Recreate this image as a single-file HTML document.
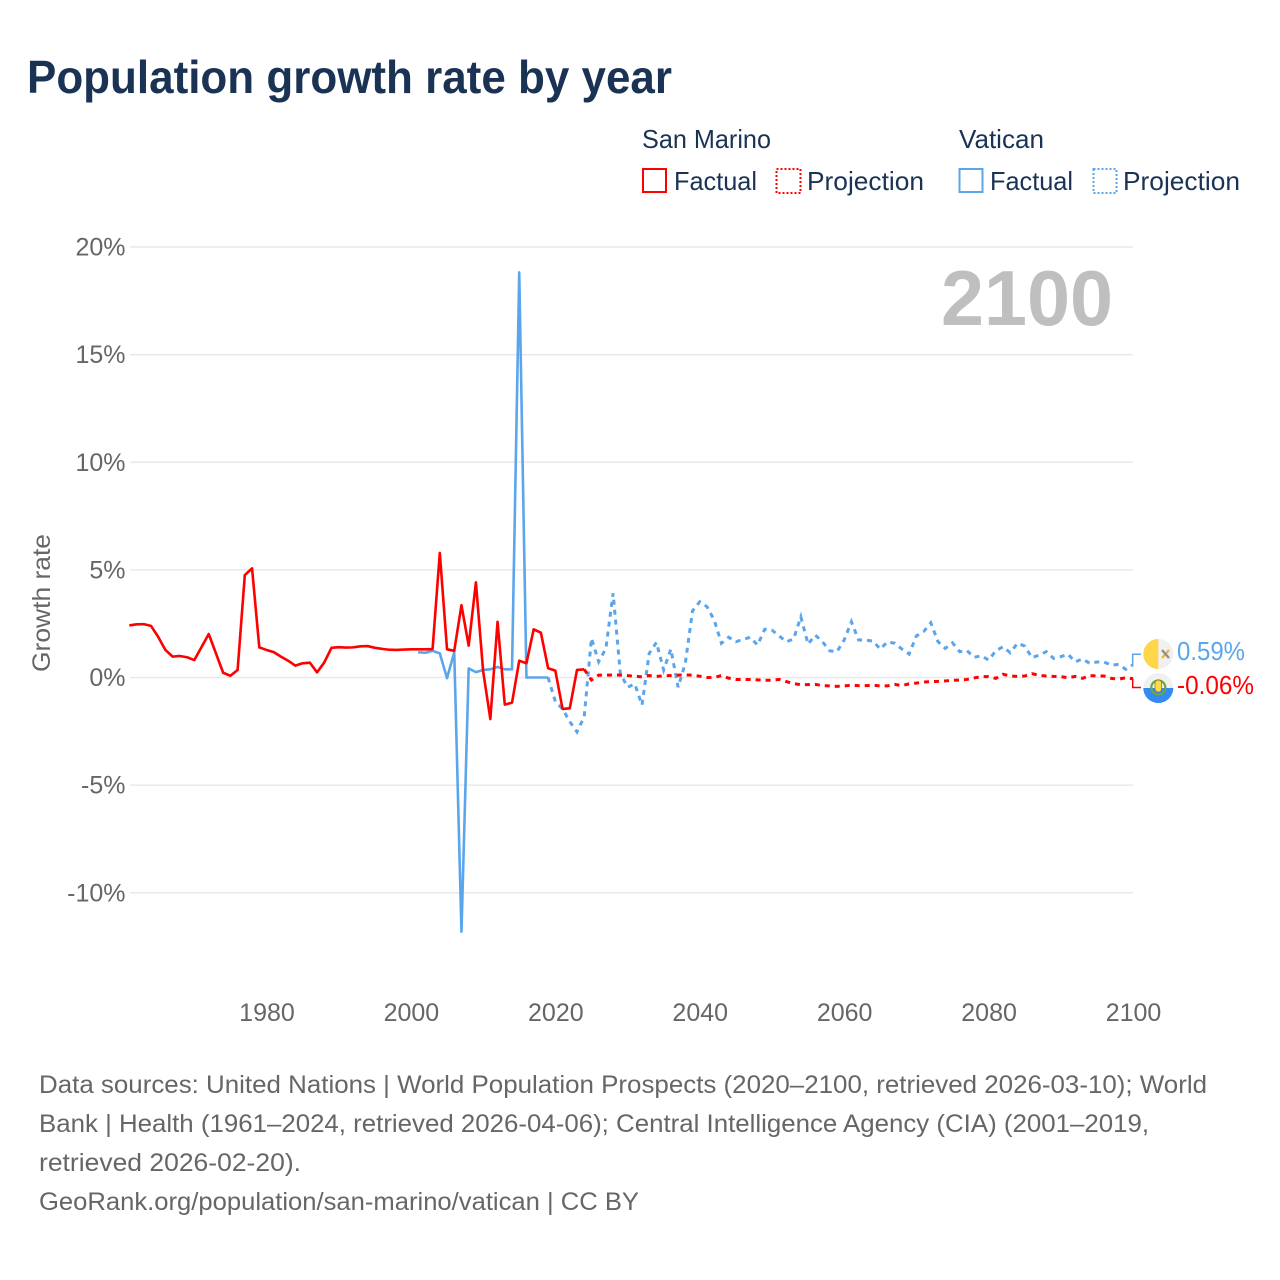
<!DOCTYPE html>
<html lang="en">
<head>
<meta charset="utf-8">
<title>Population growth rate by year</title>
<style>
html,body{margin:0;padding:0;background:#fff;}
svg{display:block;}
text{font-family:"Liberation Sans",sans-serif;}
</style>
</head>
<body>
<svg id="chart" width="1280" height="1280" viewBox="0 0 1280 1280" xmlns="http://www.w3.org/2000/svg">
  <rect x="0" y="0" width="1280" height="1280" fill="#fff"/>
  <text x="27" y="93" font-size="46" font-weight="700" fill="#1a3354" textLength="645" lengthAdjust="spacingAndGlyphs">Population growth rate by year</text>

  <g font-size="26" fill="#1a3354">
    <text x="642" y="148" textLength="129" lengthAdjust="spacingAndGlyphs">San Marino</text>
    <text x="959" y="148" textLength="85" lengthAdjust="spacingAndGlyphs">Vatican</text>
    <g>
      <rect x="643" y="169" width="23" height="23" fill="none" stroke="#ff0000" stroke-width="2"/>
      <text x="674" y="190" textLength="83" lengthAdjust="spacingAndGlyphs">Factual</text>
    </g>
    <g>
      <rect x="776.5" y="169" width="24" height="24" fill="none" stroke="#ff0000" stroke-width="2" stroke-dasharray="2 2"/>
      <text x="807" y="190" textLength="117" lengthAdjust="spacingAndGlyphs">Projection</text>
    </g>
    <g>
      <rect x="959.5" y="169" width="23" height="23" fill="none" stroke="#5ba5ec" stroke-width="2"/>
      <text x="990" y="190" textLength="83" lengthAdjust="spacingAndGlyphs">Factual</text>
    </g>
    <g>
      <rect x="1093.5" y="169" width="23" height="24" fill="none" stroke="#5ba5ec" stroke-width="2" stroke-dasharray="2 2"/>
      <text x="1123" y="190" textLength="117" lengthAdjust="spacingAndGlyphs">Projection</text>
    </g>
  </g>

  <g id="grid"></g>
  <g id="yticks" font-size="25" fill="#666"></g>
  <g id="xticks" font-size="25" fill="#666"></g>

  <text transform="translate(50,603) rotate(-90)" text-anchor="middle" font-size="25" fill="#666" textLength="138" lengthAdjust="spacingAndGlyphs">Growth rate</text>
  <text x="941" y="325" font-size="78" font-weight="700" fill="#bfbfbf" textLength="172" lengthAdjust="spacingAndGlyphs">2100</text>

  <g id="series"></g>

  <path d="M1132.7 665 V654.3 H1141" fill="none" stroke="#5ba5ec" stroke-width="1.5"/>
  <path d="M1132.7 678.3 V687.5 H1141" fill="none" stroke="#ff0000" stroke-width="1.5"/>

  <g>
    <circle cx="1158.3" cy="654" r="15" fill="#f0f0f0"/>
    <path d="M1158.3 639 A15 15 0 0 0 1158.3 669 Z" fill="#ffd54a"/>
    <path d="M1162 658 L1169 650" stroke="#e8b93c" stroke-width="2.4" fill="none"/>
    <path d="M1162 650 L1169 658" stroke="#8f8f8f" stroke-width="2.4" fill="none"/>
  </g>
  <g>
    <circle cx="1158.3" cy="688" r="15" fill="#f0f0f0"/>
    <path d="M1143.3 688 A15 15 0 0 0 1173.3 688 Z" fill="#338af3"/>
    <circle cx="1158.3" cy="687.5" r="7" fill="none" stroke="#6da544" stroke-width="2.2"/>
    <rect x="1155" y="680" width="6.6" height="12" rx="3" fill="#ffda44" stroke="#8a6d1f" stroke-width="0.7"/>
  </g>

  <text x="1177" y="660" font-size="26" fill="#5ba5ec" textLength="68" lengthAdjust="spacingAndGlyphs">0.59%</text>
  <text x="1177" y="694" font-size="26" fill="#ff0000" textLength="77" lengthAdjust="spacingAndGlyphs">-0.06%</text>

  <g font-size="25" fill="#666">
    <text x="39" y="1093" textLength="1168" lengthAdjust="spacingAndGlyphs">Data sources: United Nations | World Population Prospects (2020–2100, retrieved 2026-03-10); World</text>
    <text x="39" y="1132" textLength="1110" lengthAdjust="spacingAndGlyphs">Bank | Health (1961–2024, retrieved 2026-04-06); Central Intelligence Agency (CIA) (2001–2019,</text>
    <text x="39" y="1171" textLength="262" lengthAdjust="spacingAndGlyphs">retrieved 2026-02-20).</text>
    <text x="39" y="1210" textLength="600" lengthAdjust="spacingAndGlyphs">GeoRank.org/population/san-marino/vatican | CC BY</text>
  </g>
</svg>
<script>
// ---- Data (growth rate in % per year) ----
const yTickValues = [20, 15, 10, 5, 0, -5, -10];
const yTickLabels = ["20%", "15%", "10%", "5%", "0%", "-5%", "-10%"];
const xTickYears = [1980, 2000, 2020, 2040, 2060, 2080, 2100];
const xTickLabels = ["1980", "2000", "2020", "2040", "2060", "2080", "2100"];

const sanMarinoFactualStart = 1961;
const sanMarinoFactual = [
  2.42,2.47,2.48,2.40,1.89,1.28,0.97,1.00,0.94,0.81,
  1.41,2.02,1.12,0.22,0.08,0.35,4.76,5.07,1.40,1.28,
  1.18,0.97,0.78,0.55,0.66,0.69,0.24,0.70,1.38,1.41,
  1.39,1.40,1.45,1.46,1.38,1.33,1.29,1.28,1.30,1.31,
  1.31,1.31,1.32,5.79,1.31,1.24,3.36,1.48,4.42,0.30,
  -1.93,2.59,-1.26,-1.17,0.78,0.66,2.24,2.08,0.43,0.32,
  -1.46,-1.43,0.35,0.38
];
const sanMarinoProjectionStart = 2025;
const sanMarinoProjection = [
  -0.12,0.11,0.11,0.12,0.11,0.09,0.06,0.03,0.09,0.05,
  0.08,0.09,0.11,0.12,0.11,0.06,0.00,0.00,0.09,-0.03,
  -0.09,-0.09,-0.09,-0.11,-0.13,-0.13,-0.09,-0.19,-0.29,-0.33,
  -0.33,-0.32,-0.38,-0.39,-0.41,-0.39,-0.36,-0.38,-0.38,-0.36,
  -0.39,-0.39,-0.32,-0.38,-0.29,-0.26,-0.21,-0.19,-0.18,-0.16,
  -0.13,-0.12,-0.09,-0.02,0.04,0.04,-0.04,0.15,0.07,0.05,
  0.07,0.18,0.10,0.07,0.05,0.04,-0.01,0.05,-0.04,0.09,
  0.07,0.07,-0.04,-0.08,-0.01,-0.06
];
const vaticanFactualStart = 2001;
const vaticanFactual = [
  1.17,1.15,1.24,1.12,-0.03,1.17,-11.81,0.42,0.25,0.35,
  0.38,0.49,0.38,0.38,18.82,0,0,0,0
];
const vaticanProjectionStart = 2020;
const vaticanProjection = [
  -1.12,-1.46,-2.05,-2.53,-1.82,1.82,0.73,1.35,3.91,0.19,
  -0.45,-0.30,-1.28,1.12,1.63,0.35,1.32,-0.45,0.66,3.10,
  3.52,3.29,2.67,1.59,1.87,1.66,1.77,1.87,1.51,2.24,
  2.20,1.93,1.66,1.79,2.82,1.55,1.97,1.66,1.24,1.20,
  1.74,2.59,1.74,1.74,1.69,1.32,1.66,1.59,1.32,1.09,
  1.93,2.13,2.54,1.66,1.35,1.61,1.20,1.25,0.94,1.01,
  0.81,1.24,1.43,1.15,1.59,1.46,0.92,1.04,1.20,0.89,
  0.97,1.08,0.73,0.86,0.66,0.72,0.72,0.57,0.61,0.38,
  0.59
];

// ---- Axis functions ----
const SVG_NS = "http://www.w3.org/2000/svg";
const xDomain = [1961, 2100], xRange = [129.3, 1133];
const yDomain = [0, 20], yRange = [677.5, 247];
function xScale(year) {
  return xRange[0] + (year - xDomain[0]) * (xRange[1] - xRange[0]) / (xDomain[1] - xDomain[0]);
}
function yScale(v) {
  return yRange[0] + (v - yDomain[0]) * (yRange[1] - yRange[0]) / (yDomain[1] - yDomain[0]);
}
function make(tag, attrs) {
  const el = document.createElementNS(SVG_NS, tag);
  for (const k in attrs) el.setAttribute(k, attrs[k]);
  return el;
}

// Gridlines and y ticks
const gridG = document.getElementById("grid");
const yG = document.getElementById("yticks");
yTickValues.forEach(function (v, i) {
  const line = make("line", {x1: 130, x2: 1133, y1: yScale(v), y2: yScale(v), stroke: "#e9e9e9", "stroke-width": 1.5});
  
  
  gridG.appendChild(line);
  const t = make("text", {x: 125.5, y: yScale(v) + 8.5, "text-anchor": "end"});
  
  
  t.textContent = yTickLabels[i];
  yG.appendChild(t);
});

// X ticks
const xG = document.getElementById("xticks");
xTickYears.forEach(function (yr, i) {
  const t = make("text", {x: xScale(yr) + 0.5, y: 1021, "text-anchor": "middle"});
  
  
  t.textContent = xTickLabels[i];
  xG.appendChild(t);
});

// Series
function toPoints(startYear, values) {
  return values.map(function (v, i) {
    return xScale(startYear + i).toFixed(2) + "," + yScale(v).toFixed(2);
  });
}
const seriesG = document.getElementById("series");

const smFactualLine = make("polyline", {points: toPoints(sanMarinoFactualStart, sanMarinoFactual).join(" "), fill: "none", stroke: "#ff0000", "stroke-width": 2.6, "stroke-linejoin": "round"});



const smLastYear = sanMarinoFactualStart + sanMarinoFactual.length - 1;
const smLastValue = sanMarinoFactual[sanMarinoFactual.length - 1];
const smProjLine = make("polyline", {points: toPoints(smLastYear, [smLastValue].concat(sanMarinoProjection)).join(" "), fill: "none", stroke: "#ff0000", "stroke-width": 3, "stroke-dasharray": "5 5"});



const vaFactualLine = make("polyline", {points: toPoints(vaticanFactualStart, vaticanFactual).join(" "), fill: "none", stroke: "#5ba5ec", "stroke-width": 2.6, "stroke-linejoin": "round"});



const vaLastYear = vaticanFactualStart + vaticanFactual.length - 1;
const vaLastValue = vaticanFactual[vaticanFactual.length - 1];
const vaProjLine = make("polyline", {points: toPoints(vaLastYear, [vaLastValue].concat(vaticanProjection)).join(" "), fill: "none", stroke: "#5ba5ec", "stroke-width": 3, "stroke-dasharray": "5 5"});



seriesG.appendChild(vaFactualLine);
seriesG.appendChild(vaProjLine);
seriesG.appendChild(smFactualLine);
seriesG.appendChild(smProjLine);
</script>
</body>
</html>
